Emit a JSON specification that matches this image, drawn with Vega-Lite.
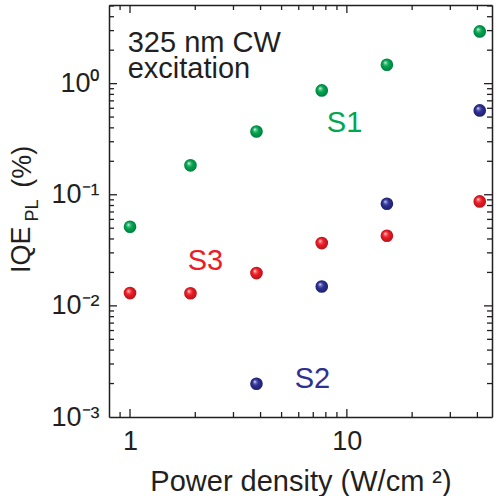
{
  "$schema": "https://vega.github.io/schema/vega-lite/v6.json",
  "width": 383,
  "height": 412,
  "autosize": "none",
  "padding": {"left": 109, "top": 5, "right": 5, "bottom": 79},
  "config": {
    "view": {"stroke": null},
    "font": "Liberation Sans",
    "axis": {
      "grid": false,
      "ticks": false,
      "tickSize": 0,
      "domainColor": "#231f20",
      "domainWidth": 1.5,
      "labelFont": "Liberation Sans",
      "labelFontSize": 27,
      "labelColor": "#231f20",
      "labelOverlap": false,
      "labelFlush": false,
      "titleFont": "Liberation Sans",
      "titleFontSize": 29,
      "titleFontWeight": "normal",
      "titleColor": "#231f20"
    },
    "rule": {"stroke": "#231f20", "strokeWidth": 1.3}
  },
  "datasets": {
    "iqe": [
      {"sample": "S1", "power": 1.0, "iqe": 0.0515},
      {"sample": "S1", "power": 1.9, "iqe": 0.184},
      {"sample": "S1", "power": 3.83, "iqe": 0.371},
      {"sample": "S1", "power": 7.66, "iqe": 0.869},
      {"sample": "S1", "power": 15.3, "iqe": 1.48},
      {"sample": "S1", "power": 41.0, "iqe": 2.95},
      {"sample": "S2", "power": 3.83, "iqe": 0.00199},
      {"sample": "S2", "power": 7.66, "iqe": 0.01495},
      {"sample": "S2", "power": 15.3, "iqe": 0.083},
      {"sample": "S2", "power": 41.0, "iqe": 0.574},
      {"sample": "S3", "power": 1.0, "iqe": 0.01304},
      {"sample": "S3", "power": 1.9, "iqe": 0.0130},
      {"sample": "S3", "power": 3.83, "iqe": 0.01974},
      {"sample": "S3", "power": 7.66, "iqe": 0.03675},
      {"sample": "S3", "power": 15.3, "iqe": 0.0428},
      {"sample": "S3", "power": 41.0, "iqe": 0.0871}
    ],
    "xticks": [
      {"v": 0.9, "kind": "minor"}, {"v": 1, "kind": "major"}, {"v": 2, "kind": "minor"}, {"v": 3, "kind": "minor"},
      {"v": 4, "kind": "minor"}, {"v": 5, "kind": "minor"}, {"v": 6, "kind": "minor"}, {"v": 7, "kind": "minor"},
      {"v": 8, "kind": "minor"}, {"v": 9, "kind": "minor"}, {"v": 10, "kind": "major"}, {"v": 20, "kind": "minor"},
      {"v": 30, "kind": "minor"}, {"v": 40, "kind": "minor"}
    ],
    "yticks": [
      {"v": 0.002, "kind": "minor"}, {"v": 0.003, "kind": "minor"}, {"v": 0.004, "kind": "minor"}, {"v": 0.005, "kind": "minor"},
      {"v": 0.006, "kind": "minor"}, {"v": 0.007, "kind": "minor"}, {"v": 0.008, "kind": "minor"}, {"v": 0.009, "kind": "minor"},
      {"v": 0.01, "kind": "major"},
      {"v": 0.02, "kind": "minor"}, {"v": 0.03, "kind": "minor"}, {"v": 0.04, "kind": "minor"}, {"v": 0.05, "kind": "minor"},
      {"v": 0.06, "kind": "minor"}, {"v": 0.07, "kind": "minor"}, {"v": 0.08, "kind": "minor"}, {"v": 0.09, "kind": "minor"},
      {"v": 0.1, "kind": "major"},
      {"v": 0.2, "kind": "minor"}, {"v": 0.3, "kind": "minor"}, {"v": 0.4, "kind": "minor"}, {"v": 0.5, "kind": "minor"},
      {"v": 0.6, "kind": "minor"}, {"v": 0.7, "kind": "minor"}, {"v": 0.8, "kind": "minor"}, {"v": 0.9, "kind": "minor"},
      {"v": 1, "kind": "major"},
      {"v": 2, "kind": "minor"}, {"v": 3, "kind": "minor"}, {"v": 4, "kind": "minor"}, {"v": 5, "kind": "minor"}
    ]
  },
  "data": {"name": "iqe"},
  "layer": [
    {
      "data": {"name": "xticks"},
      "transform": [{"filter": "datum.kind == 'major'"}],
      "mark": {"type": "rule"},
      "encoding": {
        "x": {"field": "v", "type": "quantitative", "scale": {"type": "log", "domain": [0.8, 46.7], "nice": false}, "axis": null},
        "y": {"datum": 0.001, "type": "quantitative", "scale": {"type": "log", "domain": [0.001, 5.1], "nice": false}, "axis": null},
        "y2": {"datum": 0.00118}
      }
    },
    {
      "data": {"name": "xticks"},
      "transform": [{"filter": "datum.kind == 'minor'"}],
      "mark": {"type": "rule"},
      "encoding": {
        "x": {"field": "v", "type": "quantitative", "scale": {"type": "log", "domain": [0.8, 46.7], "nice": false}, "axis": null},
        "y": {"datum": 0.001, "type": "quantitative", "scale": {"type": "log", "domain": [0.001, 5.1], "nice": false}, "axis": null},
        "y2": {"datum": 0.001109}
      }
    },
    {
      "data": {"name": "xticks"},
      "transform": [{"filter": "datum.kind == 'major'"}],
      "mark": {"type": "rule"},
      "encoding": {
        "x": {"field": "v", "type": "quantitative", "scale": {"type": "log", "domain": [0.8, 46.7], "nice": false}, "axis": null},
        "y": {"datum": 5.1, "type": "quantitative", "scale": {"type": "log", "domain": [0.001, 5.1], "nice": false}, "axis": null},
        "y2": {"datum": 4.322}
      }
    },
    {
      "data": {"name": "xticks"},
      "transform": [{"filter": "datum.kind == 'minor'"}],
      "mark": {"type": "rule"},
      "encoding": {
        "x": {"field": "v", "type": "quantitative", "scale": {"type": "log", "domain": [0.8, 46.7], "nice": false}, "axis": null},
        "y": {"datum": 5.1, "type": "quantitative", "scale": {"type": "log", "domain": [0.001, 5.1], "nice": false}, "axis": null},
        "y2": {"datum": 4.599}
      }
    },
    {
      "data": {"name": "yticks"},
      "transform": [{"filter": "datum.kind == 'major'"}],
      "mark": {"type": "rule"},
      "encoding": {
        "y": {"field": "v", "type": "quantitative", "scale": {"type": "log", "domain": [0.001, 5.1], "nice": false}, "axis": null},
        "x": {"datum": 0.8, "type": "quantitative", "scale": {"type": "log", "domain": [0.8, 46.7], "nice": false}, "axis": null},
        "x2": {"datum": 0.871}
      }
    },
    {
      "data": {"name": "yticks"},
      "transform": [{"filter": "datum.kind == 'minor'"}],
      "mark": {"type": "rule"},
      "encoding": {
        "y": {"field": "v", "type": "quantitative", "scale": {"type": "log", "domain": [0.001, 5.1], "nice": false}, "axis": null},
        "x": {"datum": 0.8, "type": "quantitative", "scale": {"type": "log", "domain": [0.8, 46.7], "nice": false}, "axis": null},
        "x2": {"datum": 0.8436}
      }
    },
    {
      "data": {"name": "yticks"},
      "transform": [{"filter": "datum.kind == 'major'"}],
      "mark": {"type": "rule"},
      "encoding": {
        "y": {"field": "v", "type": "quantitative", "scale": {"type": "log", "domain": [0.001, 5.1], "nice": false}, "axis": null},
        "x": {"datum": 46.7, "type": "quantitative", "scale": {"type": "log", "domain": [0.8, 46.7], "nice": false}, "axis": null},
        "x2": {"datum": 42.89}
      }
    },
    {
      "data": {"name": "yticks"},
      "transform": [{"filter": "datum.kind == 'minor'"}],
      "mark": {"type": "rule"},
      "encoding": {
        "y": {"field": "v", "type": "quantitative", "scale": {"type": "log", "domain": [0.001, 5.1], "nice": false}, "axis": null},
        "x": {"datum": 46.7, "type": "quantitative", "scale": {"type": "log", "domain": [0.8, 46.7], "nice": false}, "axis": null},
        "x2": {"datum": 44.29}
      }
    },
    {
      "transform": [{"filter": "datum.sample == 'S1'"}],
      "mark": {"type": "point", "shape": "circle", "filled": true, "size": 160, "opacity": 1, "strokeWidth": 0,
        "fill": {"gradient": "radial", "x1": 0.36, "y1": 0.32, "r1": 0, "x2": 0.5, "y2": 0.5, "r2": 0.55,
          "stops": [{"offset": 0, "color": "#ffffff"}, {"offset": 0.2, "color": "#5cc48c"}, {"offset": 0.45, "color": "#00a651"}, {"offset": 1, "color": "#00783a"}]}},
      "encoding": {
        "x": {"field": "power", "type": "quantitative", "scale": {"type": "log", "domain": [0.8, 46.7], "nice": false},
          "axis": {"orient": "bottom", "values": [1, 10], "ticks": false, "tickSize": 0,
            "labelExpr": "datum.value == 1 ? '1' : '10'",
            "labelPadding": 11, "title": "Power density (W/cm ²)", "titlePadding": 13}},
        "y": {"field": "iqe", "type": "quantitative", "scale": {"type": "log", "domain": [0.001, 5.1], "nice": false},
          "axis": {"orient": "left", "values": [0.001, 0.01, 0.1, 1], "ticks": false, "tickSize": 0,
            "labelExpr": "datum.value == 0.001 ? '10⁻³' : datum.value == 0.01 ? '10⁻²' : datum.value == 0.1 ? '10⁻¹' : '10⁰'",
            "labelPadding": 10, "title": null}}
      }
    },
    {
      "transform": [{"filter": "datum.sample == 'S2'"}],
      "mark": {"type": "point", "shape": "circle", "filled": true, "size": 160, "opacity": 1, "strokeWidth": 0,
        "fill": {"gradient": "radial", "x1": 0.36, "y1": 0.32, "r1": 0, "x2": 0.5, "y2": 0.5, "r2": 0.55,
          "stops": [{"offset": 0, "color": "#ffffff"}, {"offset": 0.2, "color": "#6a6dc0"}, {"offset": 0.45, "color": "#2e3192"}, {"offset": 1, "color": "#1c1e66"}]}},
      "encoding": {
        "x": {"field": "power", "type": "quantitative", "scale": {"type": "log", "domain": [0.8, 46.7], "nice": false},
          "axis": {"orient": "top", "values": [1, 10], "ticks": false, "tickSize": 0, "labels": false, "title": null}},
        "y": {"field": "iqe", "type": "quantitative", "scale": {"type": "log", "domain": [0.001, 5.1], "nice": false},
          "axis": {"orient": "right", "values": [0.001, 0.01, 0.1, 1], "ticks": false, "tickSize": 0, "labels": false, "title": null}}
      }
    },
    {
      "transform": [{"filter": "datum.sample == 'S3'"}],
      "mark": {"type": "point", "shape": "circle", "filled": true, "size": 160, "opacity": 1, "strokeWidth": 0,
        "fill": {"gradient": "radial", "x1": 0.36, "y1": 0.32, "r1": 0, "x2": 0.5, "y2": 0.5, "r2": 0.55,
          "stops": [{"offset": 0, "color": "#ffffff"}, {"offset": 0.2, "color": "#f5686d"}, {"offset": 0.45, "color": "#ed1c24"}, {"offset": 1, "color": "#b0121a"}]}},
      "encoding": {
        "x": {"field": "power", "type": "quantitative", "scale": {"type": "log", "domain": [0.8, 46.7], "nice": false}, "axis": null},
        "y": {"field": "iqe", "type": "quantitative", "scale": {"type": "log", "domain": [0.001, 5.1], "nice": false}, "axis": null}
      }
    },
    {
      "data": {"values": [{}]},
      "mark": {"type": "text", "text": ["325 nm CW", "excitation"], "align": "left", "baseline": "alphabetic", "fontSize": 29, "lineHeight": 26, "color": "#231f20"},
      "encoding": {
        "x": {"datum": 0.976, "type": "quantitative", "scale": {"type": "log", "domain": [0.8, 46.7], "nice": false}, "axis": null},
        "y": {"datum": 1.93, "type": "quantitative", "scale": {"type": "log", "domain": [0.001, 5.1], "nice": false}, "axis": null}
      }
    },
    {
      "data": {"values": [{}]},
      "mark": {"type": "text", "text": "S1", "align": "left", "baseline": "alphabetic", "fontSize": 29, "color": "#00a651"},
      "encoding": {
        "x": {"datum": 8.08, "type": "quantitative", "scale": {"type": "log", "domain": [0.8, 46.7], "nice": false}, "axis": null},
        "y": {"datum": 0.369, "type": "quantitative", "scale": {"type": "log", "domain": [0.001, 5.1], "nice": false}, "axis": null}
      }
    },
    {
      "data": {"values": [{}]},
      "mark": {"type": "text", "text": "S2", "align": "left", "baseline": "alphabetic", "fontSize": 29, "color": "#2e3192"},
      "encoding": {
        "x": {"datum": 5.75, "type": "quantitative", "scale": {"type": "log", "domain": [0.8, 46.7], "nice": false}, "axis": null},
        "y": {"datum": 0.00183, "type": "quantitative", "scale": {"type": "log", "domain": [0.001, 5.1], "nice": false}, "axis": null}
      }
    },
    {
      "data": {"values": [{}]},
      "mark": {"type": "text", "text": "S3", "align": "left", "baseline": "alphabetic", "fontSize": 29, "color": "#ed1c24"},
      "encoding": {
        "x": {"datum": 1.845, "type": "quantitative", "scale": {"type": "log", "domain": [0.8, 46.7], "nice": false}, "axis": null},
        "y": {"datum": 0.0211, "type": "quantitative", "scale": {"type": "log", "domain": [0.001, 5.1], "nice": false}, "axis": null}
      }
    },
    {
      "data": {"values": [{}]},
      "mark": {"type": "text", "text": "IQE", "angle": 270, "align": "center", "baseline": "middle", "fontSize": 27, "dy": -87, "color": "#231f20"},
      "encoding": {
        "x": {"datum": 0.8, "type": "quantitative", "scale": {"type": "log", "domain": [0.8, 46.7], "nice": false}, "axis": null},
        "y": {"datum": 0.032, "type": "quantitative", "scale": {"type": "log", "domain": [0.001, 5.1], "nice": false}, "axis": null}
      }
    },
    {
      "data": {"values": [{}]},
      "mark": {"type": "text", "text": "PL", "angle": 270, "align": "center", "baseline": "middle", "fontSize": 18, "dy": -76, "color": "#231f20"},
      "encoding": {
        "x": {"datum": 0.8, "type": "quantitative", "scale": {"type": "log", "domain": [0.8, 46.7], "nice": false}, "axis": null},
        "y": {"datum": 0.072, "type": "quantitative", "scale": {"type": "log", "domain": [0.001, 5.1], "nice": false}, "axis": null}
      }
    },
    {
      "data": {"values": [{}]},
      "mark": {"type": "text", "text": "(%)", "angle": 270, "align": "center", "baseline": "middle", "fontSize": 27, "dy": -86, "color": "#231f20"},
      "encoding": {
        "x": {"datum": 0.8, "type": "quantitative", "scale": {"type": "log", "domain": [0.8, 46.7], "nice": false}, "axis": null},
        "y": {"datum": 0.179, "type": "quantitative", "scale": {"type": "log", "domain": [0.001, 5.1], "nice": false}, "axis": null}
      }
    }
  ],
  "resolve": {"axis": {"x": "independent", "y": "independent"}}
}
